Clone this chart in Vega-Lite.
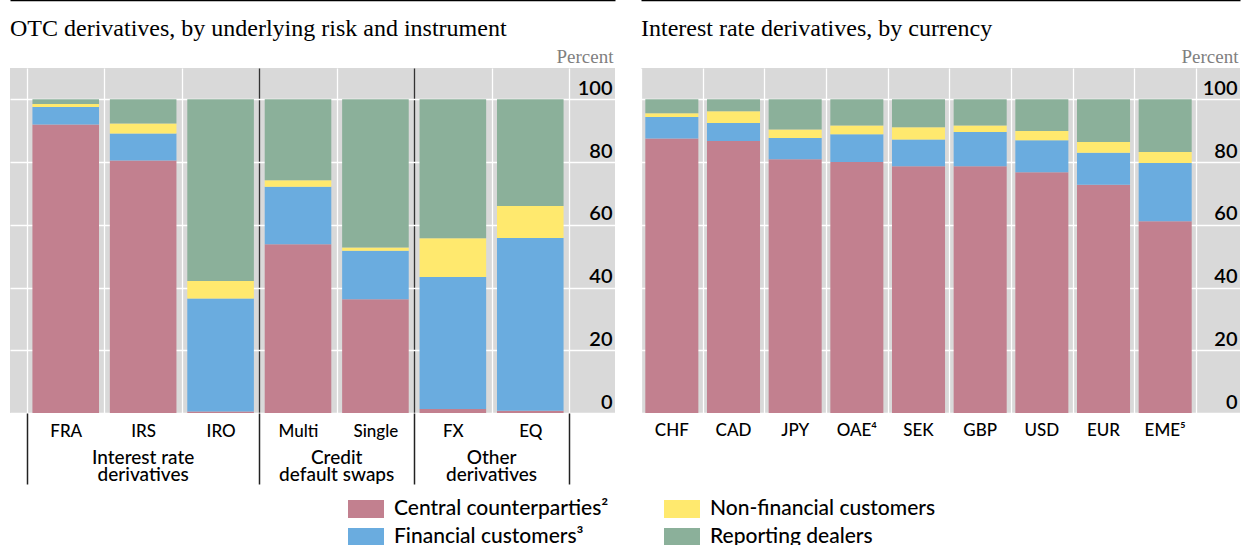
{
  "$schema": "https://vega.github.io/schema/vega-lite/v6.json",
  "padding": {"top": 0, "left": 10, "right": 3, "bottom": 0},
  "background": "white",
  "spacing": 26,
  "config": {
    "view": {"fill": "#d9d9d9", "stroke": null},
    "font": "Lato",
    "title": {"font": "Liberation Serif", "fontSize": 24, "fontWeight": "normal", "anchor": "start", "frame": "group", "offset": -41, "color": "black"},
    "axis": {"labelFont": "Lato", "labelColor": "black", "domain": false},
    "legend": {"labelFont": "Lato", "labelFontSize": 21, "labelFontWeight": 500, "labelColor": "black", "labelLimit": 600}
  },
  "datasets": {
    "risk": [
      {"cat": "FRA", "s": "Central counterparties²", "v": 92},
      {"cat": "FRA", "s": "Financial customers³", "v": 5.6},
      {"cat": "FRA", "s": "Non-financial customers", "v": 0.9},
      {"cat": "FRA", "s": "Reporting dealers", "v": 1.5},
      {"cat": "IRS", "s": "Central counterparties²", "v": 80.5},
      {"cat": "IRS", "s": "Financial customers³", "v": 8.6},
      {"cat": "IRS", "s": "Non-financial customers", "v": 3.2},
      {"cat": "IRS", "s": "Reporting dealers", "v": 7.7},
      {"cat": "IRO", "s": "Central counterparties²", "v": 0.5},
      {"cat": "IRO", "s": "Financial customers³", "v": 36},
      {"cat": "IRO", "s": "Non-financial customers", "v": 5.6},
      {"cat": "IRO", "s": "Reporting dealers", "v": 57.9},
      {"cat": "Multi", "s": "Central counterparties²", "v": 53.8},
      {"cat": "Multi", "s": "Financial customers³", "v": 18.3},
      {"cat": "Multi", "s": "Non-financial customers", "v": 2.1},
      {"cat": "Multi", "s": "Reporting dealers", "v": 25.8},
      {"cat": "Single", "s": "Central counterparties²", "v": 36.3},
      {"cat": "Single", "s": "Financial customers³", "v": 15.4},
      {"cat": "Single", "s": "Non-financial customers", "v": 1.1},
      {"cat": "Single", "s": "Reporting dealers", "v": 47.2},
      {"cat": "FX", "s": "Central counterparties²", "v": 1.3},
      {"cat": "FX", "s": "Financial customers³", "v": 42.1},
      {"cat": "FX", "s": "Non-financial customers", "v": 12.3},
      {"cat": "FX", "s": "Reporting dealers", "v": 44.3},
      {"cat": "EQ", "s": "Central counterparties²", "v": 0.7},
      {"cat": "EQ", "s": "Financial customers³", "v": 55.1},
      {"cat": "EQ", "s": "Non-financial customers", "v": 10.2},
      {"cat": "EQ", "s": "Reporting dealers", "v": 34}
    ],
    "ccy": [
      {"cat": "CHF", "s": "Central counterparties²", "v": 87.5},
      {"cat": "CHF", "s": "Financial customers³", "v": 6.9},
      {"cat": "CHF", "s": "Non-financial customers", "v": 1.2},
      {"cat": "CHF", "s": "Reporting dealers", "v": 4.4},
      {"cat": "CAD", "s": "Central counterparties²", "v": 86.7},
      {"cat": "CAD", "s": "Financial customers³", "v": 5.8},
      {"cat": "CAD", "s": "Non-financial customers", "v": 3.7},
      {"cat": "CAD", "s": "Reporting dealers", "v": 3.8},
      {"cat": "JPY", "s": "Central counterparties²", "v": 80.9},
      {"cat": "JPY", "s": "Financial customers³", "v": 6.8},
      {"cat": "JPY", "s": "Non-financial customers", "v": 2.7},
      {"cat": "JPY", "s": "Reporting dealers", "v": 9.6},
      {"cat": "OAE⁴", "s": "Central counterparties²", "v": 80},
      {"cat": "OAE⁴", "s": "Financial customers³", "v": 8.9},
      {"cat": "OAE⁴", "s": "Non-financial customers", "v": 2.8},
      {"cat": "OAE⁴", "s": "Reporting dealers", "v": 8.3},
      {"cat": "SEK", "s": "Central counterparties²", "v": 78.7},
      {"cat": "SEK", "s": "Financial customers³", "v": 8.5},
      {"cat": "SEK", "s": "Non-financial customers", "v": 3.9},
      {"cat": "SEK", "s": "Reporting dealers", "v": 8.9},
      {"cat": "GBP", "s": "Central counterparties²", "v": 78.7},
      {"cat": "GBP", "s": "Financial customers³", "v": 10.9},
      {"cat": "GBP", "s": "Non-financial customers", "v": 2.1},
      {"cat": "GBP", "s": "Reporting dealers", "v": 8.3},
      {"cat": "USD", "s": "Central counterparties²", "v": 76.8},
      {"cat": "USD", "s": "Financial customers³", "v": 10.2},
      {"cat": "USD", "s": "Non-financial customers", "v": 2.9},
      {"cat": "USD", "s": "Reporting dealers", "v": 10.1},
      {"cat": "EUR", "s": "Central counterparties²", "v": 72.8},
      {"cat": "EUR", "s": "Financial customers³", "v": 10.2},
      {"cat": "EUR", "s": "Non-financial customers", "v": 3.4},
      {"cat": "EUR", "s": "Reporting dealers", "v": 13.6},
      {"cat": "EME⁵", "s": "Central counterparties²", "v": 61.1},
      {"cat": "EME⁵", "s": "Financial customers³", "v": 18.6},
      {"cat": "EME⁵", "s": "Non-financial customers", "v": 3.5},
      {"cat": "EME⁵", "s": "Reporting dealers", "v": 16.8}
    ],
    "groupMid": [
      {"cat": "IRS", "label": "Interest rate\nderivatives"}
    ],
    "groupEdge": [
      {"cat": "Multi", "label": "Credit\ndefault swaps"},
      {"cat": "FX", "label": "Other\nderivatives"}
    ]
  },
  "hconcat": [
    {
      "width": 605,
      "height": 345,
      "title": "OTC derivatives, by underlying risk and instrument",
      "resolve": {"axis": {"x": "independent"}},
      "layer": [
        {
          "data": {"name": "risk"},
          "mark": {"type": "bar", "width": {"band": 0.86}},
          "encoding": {
            "x": {
              "field": "cat", "type": "nominal",
              "scale": {"domain": ["FRA", "IRS", "IRO", "Multi", "Single", "FX", "EQ"], "paddingInner": 0, "paddingOuter": 0.407, "align": 0.27},
              "axis": {
                "title": null, "labelAngle": 0, "labelFontSize": 17, "labelFontWeight": 500, "labelPadding": -61,
                "tickBand": "extent", "ticks": true, "tickSize": 71, "tickWidth": 1.5,
                "tickColor": {"condition": {"test": "indexof(['FRA','IRS','Multi','FX'], datum.value) >= 0", "value": "transparent"}, "value": "#222222"},
                "grid": true, "gridWidth": 1.3,
                "gridColor": {"condition": {"test": "datum.value === 'IRO' || datum.value === 'Single'", "value": "#333333"}, "value": "white"}
              }
            },
            "y": {
              "field": "v", "type": "quantitative", "stack": "zero",
              "scale": {"domain": [0, 110]},
              "axis": {
                "orient": "right", "values": [0, 20, 40, 60, 80, 100], "grid": true, "gridColor": "white", "gridWidth": 1.3,
                "ticks": false, "tickSize": 0, "labelAlign": "right", "labelPadding": -3, "labelBaseline": "alphabetic", "labelOffset": -5,
                "labelFontSize": 20, "labelFontWeight": 600,
                "title": "Percent", "titleFont": "Liberation Serif", "titleFontSize": 19, "titleFontWeight": "normal", "titleColor": "#7f7f7f",
                "titleAngle": 0, "titleAlign": "right", "titleBaseline": "alphabetic", "titleX": -2, "titleY": -6
              }
            },
            "order": {"field": "s", "sort": "ascending"},
            "color": {
              "field": "s", "type": "nominal",
              "scale": {
                "domain": ["Central counterparties²", "Financial customers³", "Non-financial customers", "Reporting dealers"],
                "range": ["#c2808f", "#6aacdf", "#ffe96e", "#8bb09a"]
              },
              "legend": {
                "orient": "none", "legendX": 338, "legendY": 423, "columns": 2, "title": null, "padding": 0,
                "symbolType": "M-1,-0.5H1V0.5H-1Z", "symbolSize": 1296, "symbolStrokeWidth": 0, "symbolOpacity": 1,
                "labelOffset": 10, "columnPadding": 55, "rowPadding": -3
              }
            }
          }
        },
        {
          "data": {"name": "groupMid"},
          "mark": {"type": "text", "baseline": "top", "align": "center", "fontSize": 19, "fontWeight": 500, "lineHeight": 17, "lineBreak": "\n", "font": "Lato", "color": "black"},
          "encoding": {
            "x": {"field": "cat", "type": "nominal", "bandPosition": 0.5,
              "axis": {"orient": "top", "title": null, "labels": false, "ticks": false, "grid": false, "domain": true, "domainColor": "black", "domainWidth": 1.5, "offset": 68}},
            "y": {"datum": -11.6, "type": "quantitative"},
            "text": {"field": "label"}
          }
        },
        {
          "data": {"name": "groupEdge"},
          "mark": {"type": "text", "baseline": "top", "align": "center", "fontSize": 19, "fontWeight": 500, "lineHeight": 17, "lineBreak": "\n", "font": "Lato", "color": "black"},
          "encoding": {
            "x": {"field": "cat", "type": "nominal", "bandPosition": 1, "axis": null},
            "y": {"datum": -11.6, "type": "quantitative"},
            "text": {"field": "label"}
          }
        }
      ]
    },
    {
      "width": 599,
      "height": 345,
      "title": "Interest rate derivatives, by currency",
      "resolve": {"axis": {"x": "independent"}},
      "layer": [
        {
          "data": {"name": "ccy"},
          "mark": {"type": "bar", "width": {"band": 0.86}},
          "encoding": {
            "x": {
              "field": "cat", "type": "nominal",
              "scale": {"domain": ["CHF", "CAD", "JPY", "OAE⁴", "SEK", "GBP", "USD", "EUR", "EME⁵"], "paddingInner": 0, "paddingOuter": 0.3566, "align": 0},
              "axis": {
                "title": null, "labels": false, "ticks": false,
                "tickBand": "extent",
                "grid": true, "gridWidth": 1.3, "gridColor": "white"
              }
            },
            "y": {
              "field": "v", "type": "quantitative", "stack": "zero",
              "scale": {"domain": [0, 110]},
              "axis": {
                "orient": "right", "values": [0, 20, 40, 60, 80, 100], "grid": true, "gridColor": "white", "gridWidth": 1.3,
                "ticks": false, "tickSize": 0, "labelAlign": "right", "labelPadding": -3, "labelBaseline": "alphabetic", "labelOffset": -5,
                "labelFontSize": 20, "labelFontWeight": 600,
                "title": "Percent", "titleFont": "Liberation Serif", "titleFontSize": 19, "titleFontWeight": "normal", "titleColor": "#7f7f7f",
                "titleAngle": 0, "titleAlign": "right", "titleBaseline": "alphabetic", "titleX": -2, "titleY": -6
              }
            },
            "order": {"field": "s", "sort": "ascending"},
            "color": {
              "field": "s", "type": "nominal",
              "scale": {
                "domain": ["Central counterparties²", "Financial customers³", "Non-financial customers", "Reporting dealers"],
                "range": ["#c2808f", "#6aacdf", "#ffe96e", "#8bb09a"]
              },
              "legend": null
            }
          }
        },
        {
          "data": {"name": "ccy"},
          "transform": [{"filter": "datum.s === 'Reporting dealers'"}],
          "mark": {"type": "text", "baseline": "top", "align": "center", "fontSize": 17, "fontWeight": 500, "font": "Lato", "color": "black"},
          "encoding": {
            "x": {"field": "cat", "type": "nominal", "bandPosition": 0.5,
              "axis": {"orient": "top", "title": null, "labels": false, "ticks": false, "grid": false, "domain": true, "domainColor": "black", "domainWidth": 1.5, "offset": 68}},
            "y": {"datum": -3.2, "type": "quantitative"},
            "text": {"field": "cat"}
          }
        }
      ]
    }
  ]
}
